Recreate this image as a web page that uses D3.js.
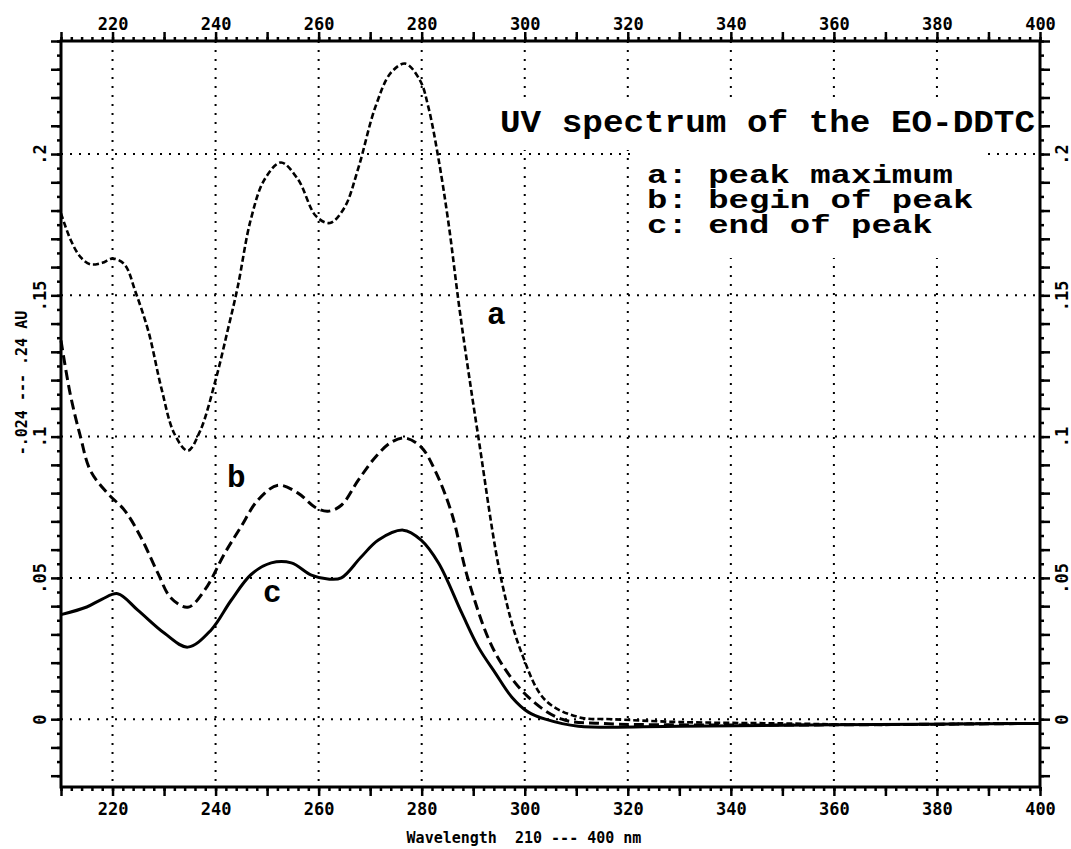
<!DOCTYPE html>
<html>
<head>
<meta charset="utf-8">
<script src="https://cdn.jsdelivr.net/npm/d3@7"></script>
<style>
  body { margin: 0; background: #fff; }
  .tick text { font-family: "DejaVu Sans Mono", monospace; font-weight: bold; font-size: 17px; fill: #000; }
  .tick line { stroke: #000; stroke-width: 2.5; }
  .big { font-family: "Liberation Mono", "Courier New", monospace; font-weight: bold; font-size: 31px; }
  .leg { font-family: "Liberation Mono", "Courier New", monospace; font-weight: bold; font-size: 26px; }
  .small { font-family: "DejaVu Sans Mono", monospace; font-weight: bold; font-size: 15px; white-space: pre; }
</style>
</head>
<body>
<svg width="1071" height="849"></svg>
<script>
// curve a: peak maximum (short dashes)
var waveA = [210, 211.9, 213.8, 215.7, 218, 220, 222.3, 224.5, 227, 229.5, 232, 234.6, 237, 240, 242.4, 244.3,
    246.8, 249.5, 252.7, 256, 259.5, 262.2, 265, 267.7, 271, 274, 276.8, 279.7, 281.3, 283.2, 285.2,
    287.5, 291, 295.5, 299.4, 304, 310.5, 317, 330, 350, 370, 390, 400];
var absA = [0.179, 0.1695, 0.1635, 0.161, 0.1615, 0.163, 0.161, 0.151, 0.137, 0.117, 0.101, 0.095, 0.102, 0.120, 0.138, 0.153,
    0.1766, 0.191, 0.197, 0.191, 0.178, 0.1756, 0.181, 0.195, 0.2166, 0.2287, 0.232, 0.226, 0.2166, 0.199, 0.1756,
    0.143, 0.0998, 0.049, 0.0234, 0.0067, 0.0007, 0.0, -0.001, -0.0015, -0.002, -0.0015, -0.0015];

// curve b: begin of peak (long dashes)
var waveB = [210, 211.8, 213.8, 215.7, 219, 222.3, 225.5, 228.8, 231.3, 234.6, 237.9, 241.8, 244.9, 248.2, 252.1,
    256, 259.3, 261.8, 264.4, 267.7, 271, 274.1, 276.8, 279.9, 282.6, 285.8, 289.1, 294.3, 300.7, 307.2,
    315, 330, 360, 400];
var absB = [0.134, 0.115, 0.0998, 0.088, 0.080, 0.074, 0.0644, 0.0517, 0.043, 0.0396, 0.0457, 0.0588, 0.068, 0.0775, 0.0828,
    0.080, 0.075, 0.0736, 0.0757, 0.0846, 0.0927, 0.098, 0.0995, 0.0963, 0.088, 0.073, 0.049, 0.0234, 0.0078, 0.0,
    -0.0015, -0.002, -0.002, -0.0015];

// curve c: end of peak (solid)
var waveC = [210, 215, 218, 221, 224.9, 230.1, 234.6, 239.1, 243, 246.9, 250.8, 254.7, 258.6, 261.8, 264.4,
    268.2, 271.6, 276.4, 279.9, 283.3, 287.8, 291, 294.3, 297.5, 300.7, 304, 310.4, 330, 360, 400];
var absC = [0.037, 0.0397, 0.0425, 0.0444, 0.0386, 0.0304, 0.0255, 0.0315, 0.042, 0.0512, 0.0553, 0.0553, 0.051, 0.0496, 0.050,
    0.0573, 0.0634, 0.0669, 0.0634, 0.0552, 0.0375, 0.0255, 0.0163, 0.0078, 0.0025, 0.0, -0.0025, -0.0025, -0.002, -0.0015];

var xGridValues = [220, 240, 260, 280, 300, 320, 340, 360, 380];
var xLabelValues = [220, 240, 260, 280, 300, 320, 340, 360, 380, 400];
var yGridValues = [0, 0.05, 0.1, 0.15, 0.2];
var yLabels = ["0", ".05", ".1", ".15", ".2"];

var titleText = "UV spectrum of the EO-DDTC";
var legendLines = ["a: peak maximum", "b: begin of peak", "c: end of peak"];
var xTitle = "Wavelength  210 --- 400 nm";
var yTitle = "-.024 --- .24 AU";

var svg = d3.select("svg");
var pl = 61, pr = 1040, pt = 41, pb = 787;
var charW = 20.4;

var x = d3.scaleLinear().domain([210, 400]).range([pl, pr]);
var y = d3.scaleLinear().domain([-0.024, 0.24]).range([pb, pt]);

// grid (dotted)
svg.append("g")
    .selectAll("line")
    .data(xGridValues)
    .enter().append("line")
    .attr("x1", d => x(d)).attr("x2", d => x(d))
    .attr("y1", pt).attr("y2", pb)
    .attr("stroke", "#000").attr("stroke-width", 2)
    .attr("stroke-dasharray", "2 7");

svg.append("g")
    .selectAll("line")
    .data(yGridValues)
    .enter().append("line")
    .attr("x1", pl).attr("x2", pr)
    .attr("y1", d => y(d)).attr("y2", d => y(d))
    .attr("stroke", "#000").attr("stroke-width", 2)
    .attr("stroke-dasharray", "2 7");

// white boxes behind title and legend hide the grid
svg.append("rect").attr("x", 490).attr("y", 97).attr("width", pr - 490 - 2).attr("height", 53).attr("fill", "#fff");
svg.append("rect").attr("x", 633).attr("y", 150).attr("width", 354).attr("height", 108).attr("fill", "#fff");

// curves
function series(w, a) {
    return w.map(function (d, i) { return [d, a[i]]; });
}
var line = d3.line()
    .x(d => x(d[0]))
    .y(d => y(d[1]))
    .curve(d3.curveCatmullRom.alpha(0.5));

svg.append("path").datum(series(waveA, absA))
    .attr("d", line).attr("fill", "none").attr("stroke", "#000")
    .attr("stroke-width", 2.6).attr("stroke-dasharray", "6 3");
svg.append("path").datum(series(waveB, absB))
    .attr("d", line).attr("fill", "none").attr("stroke", "#000")
    .attr("stroke-width", 3).attr("stroke-dasharray", "10 5");
svg.append("path").datum(series(waveC, absC))
    .attr("d", line).attr("fill", "none").attr("stroke", "#000")
    .attr("stroke-width", 3);

// axes
var minorX = d3.range(210, 401, 2);
var majorX = d3.range(210, 401, 10);
var yIdx = d3.range(-4, 49);
var minorY = yIdx.map(i => i * 0.005);
var majorY = yIdx.filter(i => i % 2 === 0).map(i => i * 0.005);

function clean(g) { g.select(".domain").remove(); }

svg.append("g").attr("transform", "translate(0," + pb + ")")
    .call(d3.axisBottom(x).tickValues(minorX).tickSize(4).tickFormat("")).call(clean);
svg.append("g").attr("transform", "translate(0," + pb + ")")
    .call(d3.axisBottom(x).tickValues(majorX).tickSize(9).tickFormat("")).call(clean);
svg.append("g").attr("transform", "translate(0," + pb + ")")
    .call(d3.axisBottom(x).tickValues(xLabelValues).tickSize(0).tickPadding(16)).call(clean);

svg.append("g").attr("transform", "translate(0," + pt + ")")
    .call(d3.axisTop(x).tickValues(minorX).tickSize(4).tickFormat("")).call(clean);
svg.append("g").attr("transform", "translate(0," + pt + ")")
    .call(d3.axisTop(x).tickValues(majorX).tickSize(9).tickFormat("")).call(clean);
svg.append("g").attr("transform", "translate(0," + pt + ")")
    .call(d3.axisTop(x).tickValues(xLabelValues).tickSize(0).tickPadding(11)).call(clean);

svg.append("g").attr("transform", "translate(" + pl + ",0)")
    .call(d3.axisLeft(y).tickValues(minorY).tickSize(4).tickFormat("")).call(clean);
svg.append("g").attr("transform", "translate(" + pl + ",0)")
    .call(d3.axisLeft(y).tickValues(majorY).tickSize(10).tickFormat("")).call(clean);
svg.append("g").attr("transform", "translate(" + pr + ",0)")
    .call(d3.axisRight(y).tickValues(minorY).tickSize(4).tickFormat("")).call(clean);
svg.append("g").attr("transform", "translate(" + pr + ",0)")
    .call(d3.axisRight(y).tickValues(majorY).tickSize(10).tickFormat("")).call(clean);

var yFmt = function (d) { return yLabels[yGridValues.indexOf(d)]; };
svg.append("g").attr("transform", "translate(" + pl + ",0)")
    .call(d3.axisLeft(y).tickValues(yGridValues).tickSize(0).tickFormat(yFmt)).call(clean)
    .selectAll("text")
    .attr("x", 0).attr("dy", "0.35em").attr("text-anchor", "middle")
    .attr("transform", "translate(-21,0) rotate(-90)");
svg.append("g").attr("transform", "translate(" + pr + ",0)")
    .call(d3.axisRight(y).tickValues(yGridValues).tickSize(0).tickFormat(yFmt)).call(clean)
    .selectAll("text")
    .attr("x", 0).attr("dy", "0.35em").attr("text-anchor", "middle")
    .attr("transform", "translate(22,0) rotate(-90)");

// frame
svg.append("rect")
    .attr("x", pl).attr("y", pt)
    .attr("width", pr - pl).attr("height", pb - pt)
    .attr("fill", "none").attr("stroke", "#000").attr("stroke-width", 3);

// title and legend
svg.append("text").attr("class", "big")
    .attr("x", 500).attr("y", 132)
    .attr("textLength", 535).attr("lengthAdjust", "spacingAndGlyphs")
    .text(titleText);

svg.append("g").selectAll("text")
    .data(legendLines)
    .enter().append("text").attr("class", "leg")
    .attr("x", 647)
    .attr("y", (d, i) => 183 + i * 25)
    .attr("textLength", d => d.length * charW).attr("lengthAdjust", "spacingAndGlyphs")
    .text(d => d);

// curve labels
var curveLabels = [["a", 294.5, 0.140], ["b", 244, 0.082], ["c", 251, 0.0415]];
svg.append("g").selectAll("text")
    .data(curveLabels)
    .enter().append("text").attr("class", "big")
    .attr("text-anchor", "middle")
    .attr("x", d => x(d[1]))
    .attr("y", d => y(d[2]))
    .text(d => d[0]);

// axis titles
svg.append("text").attr("class", "small")
    .attr("x", 524).attr("y", 843)
    .attr("text-anchor", "middle")
    .text(xTitle);
svg.append("text").attr("class", "small")
    .attr("text-anchor", "middle")
    .attr("transform", "translate(27,383) rotate(-90)")
    .text(yTitle);
</script>
</body>
</html>
